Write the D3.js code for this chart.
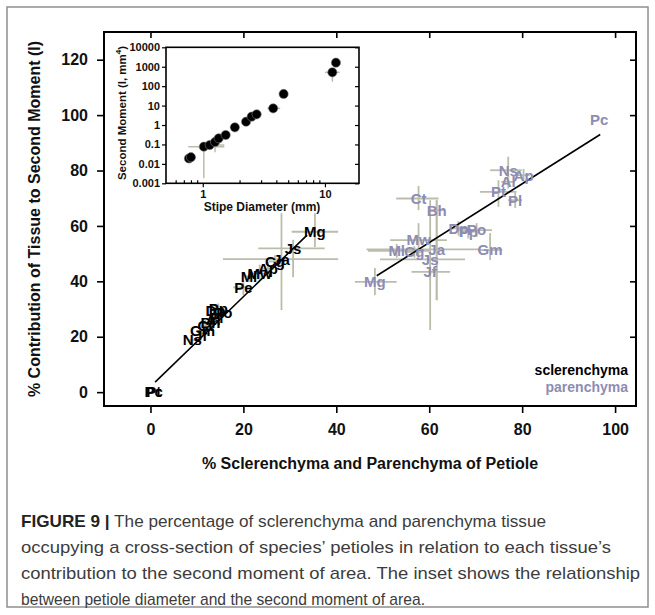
<!DOCTYPE html>
<html>
<head>
<meta charset="utf-8">
<script src="https://cdn.jsdelivr.net/npm/d3@7"></script>
<style>
  body { margin: 0; background: #fff; }
  svg { display: block; }
  text { font-family: "Liberation Sans", Arial, Helvetica, sans-serif; }
</style>
</head>
<body>
<svg id="chart" width="655" height="615"></svg>
<script>
// ---------- DATA ----------
const xTicks = [0, 20, 40, 60, 80, 100];
const yTicks = [0, 20, 40, 60, 80, 100, 120];

// sclerenchyma (black labels)
const sclNames = ["Pc","Pt","Ns","Jf","Gm","Ct","Bh","Al","Pl","Dp","Pp","Po","Pe","Ml","Mw","Ap","Cg","Ja","Js","Mg"];
const sclX     = [0.7, 0.7, 9.0, 10.8, 11.2, 11.8, 12.9, 13.5, 14.2, 14.0, 14.6, 15.6, 20.0, 21.2, 23.5, 25.3, 26.8, 28.2, 30.7, 35.4];
const sclY     = [0.3, 0.3, 18.8, 20.5, 22.3, 24.0, 25.0, 26.2, 27.0, 29.5, 30.0, 28.8, 37.8, 41.8, 42.8, 44.5, 47.2, 48.0, 51.9, 57.9];
const sclXLo   = [0.7, 0.7, 8.3, 10.0, 10.4, 11.0, 12.0, 12.8, 13.4, 13.2, 13.8, 14.8, 17.8, 20.0, 22.0, 24.0, 25.5, 15.6, 23.2, 30.4];
const sclXHi   = [0.7, 0.7, 9.7, 11.6, 12.0, 12.6, 13.8, 14.2, 15.0, 14.8, 15.4, 16.4, 21.4, 22.4, 25.0, 26.6, 28.1, 40.4, 37.5, 40.4];
const sclYLo   = [0.3, 0.3, 16.8, 18.5, 20.3, 22.0, 23.0, 24.2, 25.0, 27.5, 28.0, 26.8, 35.0, 39.8, 40.0, 42.0, 45.0, 29.6, 41.5, 52.4];
const sclYHi   = [0.3, 0.3, 20.8, 22.5, 24.3, 26.0, 27.0, 28.2, 29.0, 31.5, 32.0, 30.8, 40.4, 43.8, 46.0, 47.0, 49.4, 64.6, 55.0, 64.6];

// parenchyma (grey-violet labels)
const parNames = ["Pc","Ns","Ap","Al","Pt","Pl","Ct","Bh","Dp","Pp","Po","Gm","Mw","Ml","Cg","Ja","Js","Jf","Mg"];
const parX     = [96.6, 77.0, 80.3, 77.0, 74.9, 78.5, 57.7, 61.6, 66.3, 68.4, 70.2, 73.1, 57.7, 53.0, 56.8, 61.6, 60.2, 60.2, 48.3];
const parY     = [98.2, 80.1, 78.3, 75.9, 72.3, 69.3, 69.9, 65.7, 59.1, 57.9, 58.5, 51.3, 54.9, 51.0, 50.6, 51.5, 47.9, 43.4, 39.8];
const parXLo   = [96.6, 73.1, 79.0, 75.5, 70.9, 77.0, 52.9, 60.0, 64.8, 67.0, 65.9, 70.5, 51.6, 46.8, 55.0, 46.5, 49.4, 56.2, 44.0];
const parXHi   = [96.6, 79.9, 81.6, 78.5, 78.8, 80.0, 62.0, 63.2, 67.8, 69.8, 73.5, 75.7, 63.8, 60.2, 58.6, 70.9, 67.7, 64.5, 53.0];
const parYLo   = [98.2, 75.3, 76.0, 73.5, 66.9, 66.5, 65.7, 33.2, 56.5, 55.5, 56.0, 47.7, 48.4, 48.5, 48.5, 33.2, 22.4, 40.5, 35.0];
const parYHi   = [98.2, 85.0, 80.6, 78.3, 76.5, 72.0, 74.4, 69.3, 61.7, 60.3, 61.0, 57.4, 61.0, 53.5, 52.7, 69.3, 69.3, 46.3, 44.8];

// regression lines [x, y] end points
const sclLineX = [1.0, 33.7];
const sclLineY = [3.6, 56.7];
const parLineX = [48.7, 96.8];
const parLineY = [42.0, 93.0];

// inset: stipe diameter (mm) vs second moment (mm^4)
const insetDiam = [0.77, 0.80, 1.02, 1.14, 1.26, 1.35, 1.54, 1.83, 2.26, 2.51, 2.76, 3.77, 4.59, 11.5, 12.3];
const insetI    = [0.019, 0.022, 0.077, 0.093, 0.134, 0.207, 0.306, 0.76, 1.48, 2.7, 3.55, 7.2, 39.6, 515, 1620];
const insetDLo  = [0.74, 0.77, 0.76, 1.05, 1.12, 1.25, 1.45, 1.75, 2.15, 2.4, 2.65, 3.37, 4.4, 10.0, 11.9];
const insetDHi  = [0.81, 0.84, 1.50, 1.50, 1.42, 1.48, 1.62, 1.92, 2.38, 2.62, 2.88, 4.30, 4.8, 13.2, 12.7];
const insetILo  = [0.015, 0.018, 0.0018, 0.06, 0.04, 0.16, 0.25, 0.6, 1.2, 2.2, 3.0, 6.0, 33, 170, 1300];
const insetIHi  = [0.024, 0.026, 0.12, 0.15, 0.2, 0.26, 0.37, 0.95, 1.8, 3.2, 4.2, 8.5, 47, 700, 2000];
const insetYTicks = [0.001, 0.01, 0.1, 1, 10, 100, 1000, 10000];
const insetYTickLabels = ["0.001", "0.01", "0.1", "1", "10", "100", "1000", "10000"];
const insetXTicks = [1, 10];

const captionBold = "FIGURE 9 |";
const captionLines = [
  " The percentage of sclerenchyma and parenchyma tissue",
  "occupying a cross-section of species\u2019 petioles in relation to each tissue\u2019s",
  "contribution to the second moment of area. The inset shows the relationship",
  "between petiole diameter and the second moment of area."
];

// ---------- STYLE ----------
const PAR_COL = "#8d8cb3";
const ERR_COL = "#bbbdab";

const svg = d3.select("#chart");
svg.append("rect").attr("x", 0).attr("y", 0).attr("width", 655).attr("height", 615).attr("fill", "#fff");
// outer figure frame
svg.append("rect").attr("x", 7).attr("y", 7).attr("width", 641).attr("height", 600)
  .attr("fill", "none").attr("stroke", "#8f8f8f").attr("stroke-width", 1.5);

// ---------- MAIN SCALES ----------
const x = d3.scaleLinear().domain([-10, 104.5]).range([104, 636]);
const y = d3.scaleLinear().domain([-5, 130]).range([406, 32]);

const g = svg.append("g");

// axes
const axB = g.append("g").attr("transform", `translate(0,${y(-5)})`)
  .call(d3.axisBottom(x).tickValues(xTicks).tickSize(7).tickPadding(11).tickSizeOuter(0));
const axL = g.append("g").attr("transform", `translate(${x(-10)},0)`)
  .call(d3.axisLeft(y).tickValues(yTicks).tickSize(7).tickPadding(9).tickSizeOuter(0));
const axT = g.append("g").attr("transform", `translate(0,${y(130)})`)
  .call(d3.axisBottom(x).tickValues(xTicks).tickSize(6).tickFormat("").tickSizeOuter(0));
const axR = g.append("g").attr("transform", `translate(${x(104.5)},0)`)
  .call(d3.axisLeft(y).tickValues(yTicks.slice(1)).tickSize(6).tickFormat("").tickSizeOuter(0));
[axB, axL, axT, axR].forEach(a => {
  a.select(".domain").remove();
  a.selectAll("line").attr("stroke", "#000").attr("stroke-width", 1.6);
  a.selectAll("text").attr("font-size", 16).attr("font-weight", "bold").attr("fill", "#111")
    .style("font-family", "'Liberation Sans', Arial, sans-serif");
});
g.append("rect").attr("x", x(-10)).attr("y", y(130)).attr("width", x(104.5) - x(-10)).attr("height", y(-5) - y(130))
  .attr("fill", "none").attr("stroke", "#000").attr("stroke-width", 2);

// axis titles
g.append("text").attr("x", (x(-10) + x(104.5)) / 2).attr("y", 469)
  .attr("text-anchor", "middle").attr("font-size", 16).attr("font-weight", "bold").attr("fill", "#111")
  .text("% Sclerenchyma and Parenchyma of Petiole");
g.append("text").attr("transform", `translate(40,${(y(130) + y(-5)) / 2}) rotate(-90)`)
  .attr("text-anchor", "middle").attr("font-size", 16).attr("font-weight", "bold").attr("fill", "#111")
  .text("% Contribution of Tissue to Second Moment (I)");

// error bars
function errBars(names, xs, ys, xlo, xhi, ylo, yhi) {
  const eg = g.append("g").attr("stroke", ERR_COL).attr("stroke-width", 1.8);
  names.forEach((n, i) => {
    if (xhi[i] > xlo[i]) eg.append("line").attr("x1", x(xlo[i])).attr("x2", x(xhi[i])).attr("y1", y(ys[i])).attr("y2", y(ys[i]));
    if (yhi[i] > ylo[i]) eg.append("line").attr("x1", x(xs[i])).attr("x2", x(xs[i])).attr("y1", y(ylo[i])).attr("y2", y(yhi[i]));
  });
}
errBars(sclNames, sclX, sclY, sclXLo, sclXHi, sclYLo, sclYHi);
errBars(parNames, parX, parY, parXLo, parXHi, parYLo, parYHi);

// regression lines
g.append("line").attr("x1", x(sclLineX[0])).attr("y1", y(sclLineY[0])).attr("x2", x(sclLineX[1])).attr("y2", y(sclLineY[1]))
  .attr("stroke", "#000").attr("stroke-width", 1.6);
g.append("line").attr("x1", x(parLineX[0])).attr("y1", y(parLineY[0])).attr("x2", x(parLineX[1])).attr("y2", y(parLineY[1]))
  .attr("stroke", "#000").attr("stroke-width", 1.6);

// labels
g.append("g").selectAll("text").data(sclNames).join("text")
  .attr("x", (d, i) => x(sclX[i])).attr("y", (d, i) => y(sclY[i])).attr("dy", "0.36em")
  .attr("text-anchor", "middle").attr("font-size", 15).attr("font-weight", "bold").attr("fill", "#000")
  .text(d => d);
g.append("g").selectAll("text").data(parNames).join("text")
  .attr("x", (d, i) => x(parX[i])).attr("y", (d, i) => y(parY[i])).attr("dy", "0.36em")
  .attr("text-anchor", "middle").attr("font-size", 15).attr("font-weight", "bold").attr("fill", PAR_COL)
  .text(d => d);

// legend
g.append("text").attr("x", 628).attr("y", 375).attr("text-anchor", "end").attr("font-size", 14)
  .attr("font-weight", "bold").attr("fill", "#000").text("sclerenchyma");
g.append("text").attr("x", 628).attr("y", 392).attr("text-anchor", "end").attr("font-size", 14)
  .attr("font-weight", "bold").attr("fill", PAR_COL).text("parenchyma");

// ---------- INSET ----------
const ix = d3.scaleLog().domain([0.5, 19]).range([166, 359]);
const iy = d3.scaleLog().domain([0.001, 10000]).range([183.3, 47.3]);
const ig = svg.append("g");
ig.append("rect").attr("x", 166).attr("y", 47.3).attr("width", 193).attr("height", 136)
  .attr("fill", "#fff");

// x minor+major ticks
const ixAll = [0.6, 0.7, 0.8, 0.9, 1, 2, 3, 4, 5, 6, 7, 8, 9, 10];
const iax = ig.append("g").attr("transform", "translate(0,183.3)")
  .call(d3.axisBottom(ix).tickValues(ixAll).tickSize(-3).tickFormat("").tickSizeOuter(0));
iax.select(".domain").remove();
iax.selectAll("line").attr("stroke", "#000").attr("stroke-width", 1.2).attr("y2", (d) => (d === 1 || d === 10) ? 4 : -3);
const iaxL = ig.append("g").attr("transform", "translate(0,183.3)")
  .call(d3.axisBottom(ix).tickValues(insetXTicks).tickSize(0).tickPadding(7).tickFormat(d3.format("d")).tickSizeOuter(0));
iaxL.select(".domain").remove();
iaxL.selectAll("text").attr("font-size", 11).attr("font-weight", "bold").attr("fill", "#111")
  .style("font-family", "'Liberation Sans', Arial, sans-serif");

const iayL = ig.append("g").attr("transform", "translate(166,0)")
  .call(d3.axisLeft(iy).tickValues(insetYTicks).tickSize(4).tickPadding(2)
    .tickFormat((d, i) => insetYTickLabels[i]).tickSizeOuter(0));
iayL.select(".domain").remove();
iayL.selectAll("line").attr("stroke", "#000").attr("stroke-width", 1.2);
iayL.selectAll("text").attr("font-size", 11).attr("font-weight", "bold").attr("fill", "#111")
  .style("font-family", "'Liberation Sans', Arial, sans-serif");
const iayR = ig.append("g").attr("transform", "translate(359,0)")
  .call(d3.axisLeft(iy).tickValues(insetYTicks).tickSize(-0).tickFormat("").tickSizeOuter(0));
iayR.select(".domain").remove();
iayR.selectAll("line").attr("stroke", "#000").attr("stroke-width", 1.2).attr("x2", -4);

// inset error bars
const ieg = ig.append("g").attr("stroke", ERR_COL).attr("stroke-width", 1.5);
insetDiam.forEach((d, i) => {
  ieg.append("line").attr("x1", ix(insetDLo[i])).attr("x2", ix(insetDHi[i])).attr("y1", iy(insetI[i])).attr("y2", iy(insetI[i]));
  ieg.append("line").attr("x1", ix(d)).attr("x2", ix(d)).attr("y1", iy(insetILo[i])).attr("y2", iy(insetIHi[i]));
});
ig.append("g").selectAll("circle").data(insetDiam).join("circle")
  .attr("cx", d => ix(d)).attr("cy", (d, i) => iy(insetI[i])).attr("r", 4.6)
  .attr("fill", "#000").attr("stroke", "#777").attr("stroke-width", 0.6);

ig.append("rect").attr("x", 166).attr("y", 47.3).attr("width", 193).attr("height", 136)
  .attr("fill", "none").attr("stroke", "#000").attr("stroke-width", 1.6);

ig.append("text").attr("x", 262).attr("y", 211).attr("text-anchor", "middle").attr("font-size", 12)
  .attr("font-weight", "bold").attr("fill", "#111").text("Stipe Diameter (mm)");
const yt = ig.append("text").attr("transform", "translate(126,113) rotate(-90)").attr("text-anchor", "middle")
  .attr("font-size", 11.5).attr("font-weight", "bold").attr("fill", "#111");
yt.append("tspan").text("Second Moment (I, mm");
yt.append("tspan").attr("font-size", 8).attr("dy", "-0.6em").text("4");
yt.append("tspan").attr("dy", "0.45em").text(")");

// ---------- CAPTION ----------
const capY = [527, 553, 579, 605];
const capLeft = 21;
const capRight = [546, 611, 640, 425];
const cg = svg.append("g").attr("fill", "#3c3c3c").attr("font-size", 17);
captionLines.forEach((line, i) => {
  const t = cg.append("text").attr("x", capLeft).attr("y", capY[i])
    .attr("textLength", capRight[i] - capLeft).attr("lengthAdjust", "spacingAndGlyphs")
    .style("font-family", "'Liberation Sans Narrow', 'Arial Narrow', 'Liberation Sans', sans-serif");
  if (i === 0) t.append("tspan").attr("font-weight", "bold").attr("fill", "#222").text(captionBold);
  t.append("tspan").text(line);
});
</script>
</body>
</html>
